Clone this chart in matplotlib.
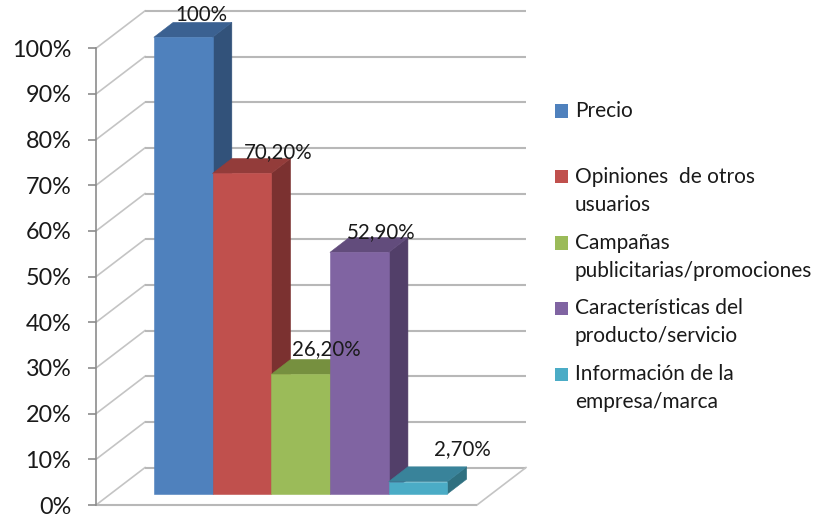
#!/usr/bin/env python3

import matplotlib.pyplot as plt
from matplotlib.patches import Polygon, Rectangle

categories = ['Precio', 'Opiniones  de otros\nusuarios', 'Campañas\npublicitarias/promociones',
              'Características del\nproducto/servicio', 'Información de la\nempresa/marca']
values = [100, 70.2, 26.2, 52.9, 2.7]
value_labels = ['100%', '70,20%', '26,20%', '52,90%', '2,70%']
front_colors = ['#4f81bd', '#c0504d', '#9bbb59', '#8064a2', '#4bacc6']
side_colors = ['#32527a', '#7b3130', '#647a38', '#523f69', '#2f7080']
top_colors = ['#3b6191', '#933c3a', '#76903f', '#624c7c', '#39839a']
yticks = list(range(0, 101, 10))

W, H = 818, 515
PX_PER_PCT = 4.567
PX_PER_BAR = 58.7

# oblique offsets in data units (bar widths, percent)
WALL_DX, WALL_DY = 0.835, 8.2
BAR_DX, BAR_DY = 0.329, 3.25
BAR_BASE = 2.41
BAR_START = 0.985
X_MAX = 6.49

# label placement relative to the front-top centre of each bar, in pixels
label_dx = [18, 36, 26, 22, 44]
label_dy = [22, 21, 25, 20, 33]


def face(ax, pts, color, z):
    ax.add_patch(Polygon(pts, closed=True, facecolor=color, edgecolor=color, lw=0.4,
                         zorder=z, clip_on=False))


def draw_walls(ax):
    grid = dict(color='#b8b8b8', lw=1.5, clip_on=False, zorder=1, solid_capstyle='butt')
    for t in yticks:
        ax.plot([0, WALL_DX], [t, t + WALL_DY], color='#c4c4c4', lw=1.2, clip_on=False, zorder=1)
        ax.plot([WALL_DX, X_MAX + WALL_DX], [t + WALL_DY] * 2, **grid)
    ax.plot([X_MAX, X_MAX + WALL_DX], [0, WALL_DY], color='#c4c4c4', lw=1.2, clip_on=False, zorder=1)
    ax.plot([0, X_MAX], [0, 0], **grid)


def draw_bars(ax):
    for i, v in enumerate(values):
        x0, x1 = BAR_START + i, BAR_START + 1 + i
        top = BAR_BASE + v
        z = 2 + i
        face(ax, [(x1, BAR_BASE), (x1 + BAR_DX, BAR_BASE + BAR_DY),
                  (x1 + BAR_DX, top + BAR_DY), (x1, top)], side_colors[i], z)
        face(ax, [(x0, top), (x1, top), (x1 + BAR_DX, top + BAR_DY),
                  (x0 + BAR_DX, top + BAR_DY)], top_colors[i], z)
        face(ax, [(x0, BAR_BASE), (x1, BAR_BASE), (x1, top), (x0, top)], front_colors[i], z)


def draw_labels(ax):
    for i, (v, lab) in enumerate(zip(values, value_labels)):
        x = BAR_START + i + 0.5 + label_dx[i] / PX_PER_BAR
        y = BAR_BASE + v + label_dy[i] / PX_PER_PCT
        ax.text(x, y, lab, ha='center', va='center', fontsize=14.8,
                color='#1a1a1a', zorder=10, clip_on=False)


def draw_legend(fig):
    rows = [111, 177, 243, 308, 374]
    for name, color, y in zip(categories, front_colors, rows):
        fig.add_artist(Rectangle((555 / W, 1 - (y + 6.5) / H), 13 / W, 13 / H, facecolor=color,
                                 edgecolor='none', transform=fig.transFigure))
        for j, line in enumerate(name.split('\n')):
            fig.text(575 / W, 1 - (y + j * 28) / H, line, ha='left', va='center',
                     fontsize=15, color='#1a1a1a')


def main():
    plt.rcParams['font.family'] = ['Lato', 'DejaVu Sans']
    fig = plt.figure(figsize=(W / 100, H / 100), dpi=100)
    ax = fig.add_axes([96 / W, 1 - 505 / H, X_MAX * PX_PER_BAR / W, 100 * PX_PER_PCT / H])
    ax.set_xlim(0, X_MAX)
    ax.set_ylim(0, 100)
    ax.patch.set_visible(False)
    for side in ('top', 'right', 'bottom'):
        ax.spines[side].set_visible(False)
    ax.spines['left'].set_color('#8c8c8c')
    ax.spines['left'].set_linewidth(1.2)
    ax.set_xticks([])
    ax.set_yticks(yticks)
    ax.set_yticklabels(['{}%'.format(t) for t in yticks])
    ax.tick_params(axis='y', length=5.8, width=1.2, color='#8c8c8c', pad=12,
                   labelsize=16.8, labelcolor='#1a1a1a')

    draw_walls(ax)
    draw_bars(ax)
    draw_labels(ax)
    draw_legend(fig)
    fig.savefig('out.png', dpi=100)


if __name__ == '__main__':
    main()
